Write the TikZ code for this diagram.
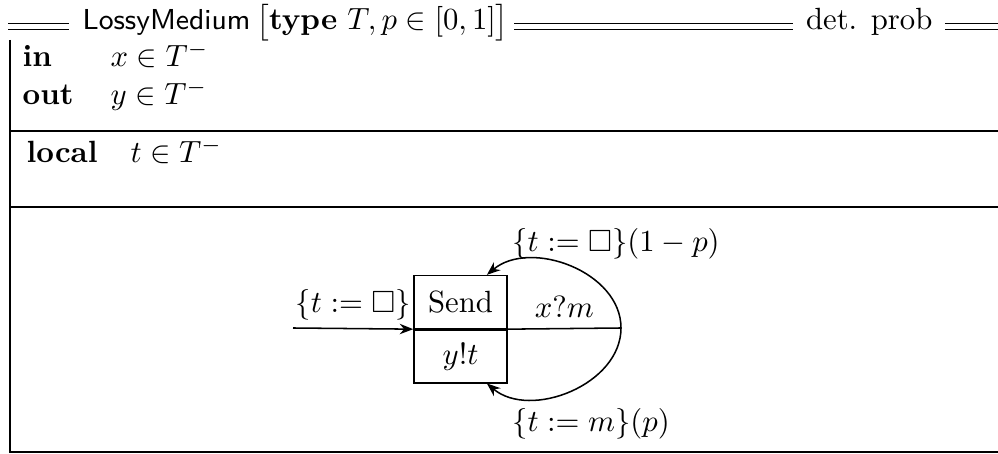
\documentclass[tikz,border=0pt]{standalone}
\usepackage{amsmath,amssymb}
\usetikzlibrary{arrows.meta}
\tikzset{
  headrule/.style={double, double distance=1.5pt, line width=0.45pt},
  framerule/.style={line width=0.5pt},
  keyword/.style={anchor=base west, inner sep=0pt, font=\bfseries},
  decl/.style={anchor=base west, inner sep=0pt},
  statebox/.style={draw, line width=0.5pt, minimum width=30.3pt, minimum height=17.2pt, inner sep=0pt},
  trans/.style={line width=0.5pt, -{Stealth[length=4.4pt,width=3.4pt]}},
}

\begin{document}
\begin{tikzpicture}[x=0.3257pt, y=-0.3257pt]
\useasboundingbox (0,0) rectangle (998,454);
% header line
\node[anchor=base west, inner sep=0pt, font=\fontsize{9.4}{11}\selectfont\sffamily] (title) at (82,30) {LossyMedium};
\node[anchor=base west, inner sep=0pt] (params) at ([xshift=1.5pt]title.base east) {$\bigl[\textbf{type}~T, p \in [0,1]\bigr]$};
\node[anchor=base east, inner sep=0pt] (mode) at (933,30) {det. prob};
\coordinate (hl) at (8,26.3);
\coordinate (hr) at (998,26.3);
\draw[headrule] (hl) -- ([xshift=-4.2pt]title.west |- hl);
\draw[headrule] ([xshift=1.6pt]params.east |- hl) -- ([xshift=-3.9pt]mode.west |- hl);
\draw[headrule] ([xshift=3.9pt]mode.east |- hl) -- (hr);
% frame
\draw[framerule] (10,40) -- (10,452) -- (998,452);
\draw[framerule] (10,131) -- (998,131);
\draw[framerule] (10,207) -- (998,207);
% declarations
\node[keyword] (kin) at (22,67) {in};
\node[decl] (vin) at (110,67) {$x \in T^{-}$};
\node[keyword] (kout) at (22,105) {out};
\node[decl] (vout) at (110,105) {$y \in T^{-}$};
\node[keyword] (kloc) at (26,163) {local};
\node[decl] (vloc) at (130,163) {$t \in T^{-}$};
% automaton
\node[statebox] (send) at (460.5,302) {Send};
\node[statebox, anchor=north] (act) at (send.south) {$y!t$};
\coordinate (init) at (293,328);
\coordinate (split) at (621,328);
\draw[trans] (init) -- node[above, inner sep=2.5pt] {$\{t := \Box\}$} (send.south west);
\draw[framerule] (send.south east) -- node[above] {$x?m$} (split);
\draw[trans] (split) to[out=90,in=40] ([xshift=8.6pt]send.north);
\draw[trans] (split) to[out=-90,in=-40] ([xshift=8.6pt]act.south);
\node[anchor=base] (lossl) at (616,252) {$\{t := \Box\}(1-p)$};
\node[anchor=base] (keepl) at (591,432) {$\{t := m\}(p)$};
\end{tikzpicture}
\end{document}
